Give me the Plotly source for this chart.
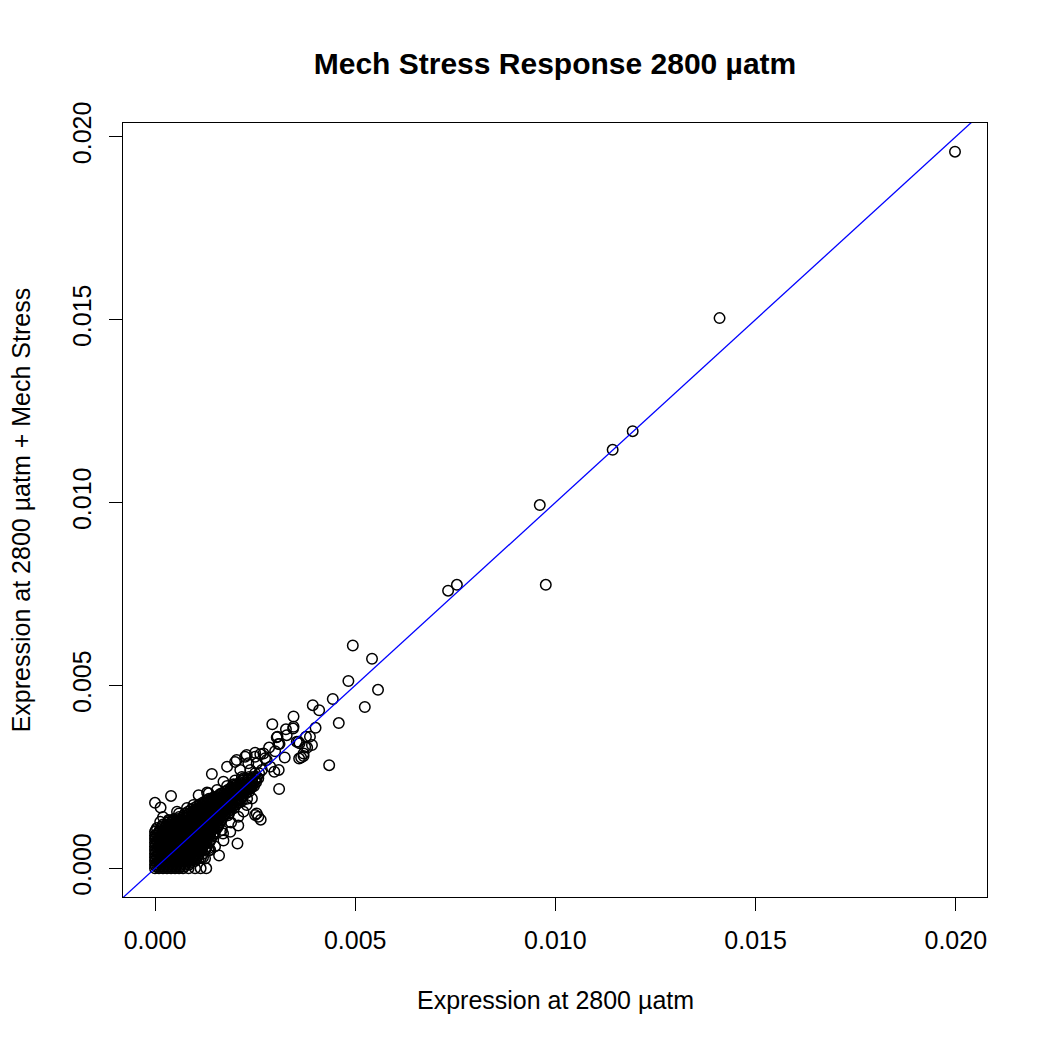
import plotly.graph_objects as go

# ---------------- data ----------------
# isolated / clearly readable points
outlier_x = [
    0.01998, 0.01410, 0.01193, 0.01143, 0.00961, 0.00976, 0.00754, 0.00732,
    0.00494, 0.00542, 0.00483, 0.00557, 0.00524, 0.00444, 0.00394, 0.00410,
    0.00346, 0.00293, 0.00401, 0.00459, 0.00345, 0.00327, 0.00329, 0.00304,
    0.00308, 0.00354, 0.00387, 0.00392, 0.00375, 0.00361, 0.00371, 0.00365,
    0.00435, 0.00324, 0.00309, 0.00310, 0.00271, 0.00298, 0.00279, 0.00288,
    0.00267, 0.00258, 0.00242, 0.00250, 0.00250, 0.00229, 0.00225, 0.00204,
    0.00200, 0.00180, 0.00142, 0.00221, 0.00213, 0.00242, 0.00229, 0.00254,
    0.00258, 0.00208, 0.00264, 0.00250, 0.00155, 0.00130, 0.00163, 0.00171,
    0.00196, 0.00221, 0.00213, 0.00238, 0.00254, 0.00233, 0.00217, 0.00263,
    0.00275, 0.00171, 0.00206, 0.00208, 0.00167, 0.00188, 0.00221, 0.00134,
    0.00125, 0.00109, 0.00138, 0.00084, 0.00100, 0.00114, 0.00128, 0.00000,
    0.00014, 0.00040, 0.00096, 0.00055, 0.00013, 0.00034, 0.00109, 0.00134,
    0.00163, 0.00196, 0.00346, 0.00306, 0.00311, 0.00358, 0.00377, 0.00371,
    0.00360, 0.00380, 0.00300, 0.00285,
    0.00020, 0.00060, 0.00080, 0.00140, 0.00180, 0.00200, 0.00150, 0.00170,
    0.00190, 0.00230, 0.00120, 0.00160,
]
outlier_y = [
    0.01959, 0.01504, 0.01195, 0.01144, 0.00993, 0.00775, 0.00775, 0.00759,
    0.00609, 0.00573, 0.00512, 0.00488, 0.00441, 0.00463, 0.00446, 0.00432,
    0.00415, 0.00394, 0.00384, 0.00397, 0.00382, 0.00380, 0.00364, 0.00358,
    0.00340, 0.00346, 0.00360, 0.00337, 0.00332, 0.00342, 0.00307, 0.00303,
    0.00282, 0.00303, 0.00269, 0.00217, 0.00314, 0.00264, 0.00296, 0.00278,
    0.00269, 0.00246, 0.00223, 0.00305, 0.00316, 0.00310, 0.00305, 0.00296,
    0.00291, 0.00278, 0.00258, 0.00209, 0.00187, 0.00191, 0.00173, 0.00150,
    0.00141, 0.00141, 0.00133, 0.00146, 0.00214, 0.00207, 0.00187, 0.00237,
    0.00230, 0.00246, 0.00269, 0.00269, 0.00287, 0.00287, 0.00250, 0.00312,
    0.00301, 0.00076, 0.00068, 0.00117, 0.00105, 0.00100, 0.00155, 0.00055,
    0.00027, 0.00027, 0.00050, 0.00000, 0.00000, 0.00000, 0.00000, 0.00179,
    0.00166, 0.00198, 0.00173, 0.00155, 0.00127, 0.00132, 0.00200, 0.00205,
    0.00203, 0.00228, 0.00387, 0.00360, 0.00340, 0.00346, 0.00360, 0.00314,
    0.00300, 0.00330, 0.00320, 0.00330,
    0.00140, 0.00150, 0.00165, 0.00190, 0.00225, 0.00240, 0.00060, 0.00095,
    0.00125, 0.00190, 0.00030, 0.00035,
]

# dense, overlapping cluster near the origin (read row by row)
cluster_row_y = [
    0.0000, 0.0001, 0.0002, 0.0003, 0.0004, 0.0005, 0.0006, 0.0007,
    0.0008, 0.0009, 0.0010, 0.0011, 0.0012, 0.0013, 0.0014, 0.0015,
    0.0016, 0.0017, 0.0018, 0.0019, 0.0020, 0.0021, 0.0022, 0.0023,
    0.0024, 0.0025, 0.0026,
]
cluster_row_x = [
    [0.0, 0.0001, 0.0002, 0.0003, 0.0004, 0.0005, 0.0006, 0.0007],
    [0.0, 0.00005, 0.00015, 0.00025, 0.00035, 0.00045, 0.00055, 0.00065, 0.00075, 0.00085],
    [0.0, 0.0001, 0.0002, 0.0003, 0.0004, 0.0005, 0.0006, 0.0007, 0.0008, 0.0009, 0.0010],
    [0.0, 0.00005, 0.00015, 0.00025, 0.00035, 0.00045, 0.00055, 0.00065, 0.00075, 0.00085, 0.00095, 0.00105, 0.00115],
    [0.0, 0.0001, 0.0002, 0.0003, 0.0004, 0.0005, 0.0006, 0.0007, 0.0008, 0.0009, 0.0010, 0.0011, 0.0012],
    [0.0, 0.00005, 0.00015, 0.00025, 0.00035, 0.00045, 0.00055, 0.00065, 0.00075, 0.00085, 0.00095, 0.00105, 0.00115, 0.00125, 0.00135],
    [0.0, 0.0001, 0.0002, 0.0003, 0.0004, 0.0005, 0.0006, 0.0007, 0.0008, 0.0009, 0.0010, 0.0011, 0.0012, 0.0013],
    [0.0, 0.00005, 0.00015, 0.00025, 0.00035, 0.00045, 0.00055, 0.00065, 0.00075, 0.00085, 0.00095, 0.00105, 0.00115, 0.00125, 0.00135],
    [0.0, 0.0001, 0.0002, 0.0003, 0.0004, 0.0005, 0.0006, 0.0007, 0.0008, 0.0009, 0.0010, 0.0011, 0.0012, 0.0013, 0.0014],
    [0.0, 0.00005, 0.00015, 0.00025, 0.00035, 0.00045, 0.00055, 0.00065, 0.00075, 0.00085, 0.00095, 0.00105, 0.00115, 0.00125, 0.00135, 0.00145],
    [0.0, 0.0001, 0.0002, 0.0003, 0.0004, 0.0005, 0.0006, 0.0007, 0.0008, 0.0009, 0.0010, 0.0011, 0.0012, 0.0013, 0.0014, 0.0015],
    [0.00005, 0.00015, 0.00025, 0.00035, 0.00045, 0.00055, 0.00065, 0.00075, 0.00085, 0.00095, 0.00105, 0.00115, 0.00125, 0.00135, 0.00145, 0.00155],
    [0.0002, 0.0003, 0.0004, 0.0005, 0.0006, 0.0007, 0.0008, 0.0009, 0.0010, 0.0011, 0.0012, 0.0013, 0.0014, 0.0015, 0.0016],
    [0.00035, 0.00045, 0.00055, 0.00065, 0.00075, 0.00085, 0.00095, 0.00105, 0.00115, 0.00125, 0.00135, 0.00145, 0.00155, 0.00165],
    [0.0006, 0.0007, 0.0008, 0.0009, 0.0010, 0.0011, 0.0012, 0.0013, 0.0014, 0.0015, 0.0016, 0.0017],
    [0.00075, 0.00085, 0.00095, 0.00105, 0.00115, 0.00125, 0.00135, 0.00145, 0.00155, 0.00165, 0.00175, 0.00185],
    [0.0009, 0.0010, 0.0011, 0.0012, 0.0013, 0.0014, 0.0015, 0.0016, 0.0017, 0.0018, 0.0019],
    [0.00105, 0.00115, 0.00125, 0.00135, 0.00145, 0.00155, 0.00165, 0.00175, 0.00185, 0.00195],
    [0.0012, 0.0013, 0.0014, 0.0015, 0.0016, 0.0017, 0.0018, 0.0019, 0.0020, 0.0021],
    [0.00135, 0.00145, 0.00155, 0.00165, 0.00175, 0.00185, 0.00195, 0.00205, 0.00215],
    [0.0016, 0.0017, 0.0018, 0.0019, 0.0020, 0.0021, 0.0022],
    [0.00175, 0.00185, 0.00195, 0.00205, 0.00215, 0.00225, 0.00235],
    [0.0019, 0.0020, 0.0021, 0.0022, 0.0023, 0.0024],
    [0.00205, 0.00215, 0.00225, 0.00235, 0.00245],
    [0.0022, 0.0023, 0.0024, 0.0025],
    [0.00235, 0.00245, 0.00255],
    [0.0025, 0.0026],
]

# in-between rows of the same dense cluster (the blob reads as solid black)
fill_row_y = [
    0.00005, 0.00015, 0.00025, 0.00035, 0.00045, 0.00055, 0.00065, 0.00075,
    0.00085, 0.00095, 0.00105, 0.00115, 0.00125, 0.00135, 0.00145, 0.00155,
    0.00165, 0.00175, 0.00185, 0.00195, 0.00205, 0.00215, 0.00225, 0.00235,
    0.00245,
]
fill_row_x = [
    [0.000025, 0.000125, 0.000225, 0.000325, 0.000425, 0.000525, 0.000625, 0.000725],
    [0.000075, 0.000175, 0.000275, 0.000375, 0.000475, 0.000575, 0.000675, 0.000775, 0.000875],
    [0.000025, 0.000125, 0.000225, 0.000325, 0.000425, 0.000525, 0.000625, 0.000725, 0.000825, 0.000925, 0.001025],
    [0.000075, 0.000175, 0.000275, 0.000375, 0.000475, 0.000575, 0.000675, 0.000775, 0.000875, 0.000975, 0.001075],
    [0.000025, 0.000125, 0.000225, 0.000325, 0.000425, 0.000525, 0.000625, 0.000725, 0.000825, 0.000925, 0.001025, 0.001125],
    [0.000075, 0.000175, 0.000275, 0.000375, 0.000475, 0.000575, 0.000675, 0.000775, 0.000875, 0.000975, 0.001075, 0.001175, 0.001275],
    [0.000025, 0.000125, 0.000225, 0.000325, 0.000425, 0.000525, 0.000625, 0.000725, 0.000825, 0.000925, 0.001025, 0.001125, 0.001225],
    [0.000075, 0.000175, 0.000275, 0.000375, 0.000475, 0.000575, 0.000675, 0.000775, 0.000875, 0.000975, 0.001075, 0.001175, 0.001275, 0.001375],
    [0.000025, 0.000125, 0.000225, 0.000325, 0.000425, 0.000525, 0.000625, 0.000725, 0.000825, 0.000925, 0.001025, 0.001125, 0.001225, 0.001325],
    [0.000075, 0.000175, 0.000275, 0.000375, 0.000475, 0.000575, 0.000675, 0.000775, 0.000875, 0.000975, 0.001075, 0.001175, 0.001275, 0.001375, 0.001475],
    [0.000025, 0.000125, 0.000225, 0.000325, 0.000425, 0.000525, 0.000625, 0.000725, 0.000825, 0.000925, 0.001025, 0.001125, 0.001225, 0.001325, 0.001425],
    [0.000175, 0.000275, 0.000375, 0.000475, 0.000575, 0.000675, 0.000775, 0.000875, 0.000975, 0.001075, 0.001175, 0.001275, 0.001375, 0.001475, 0.001575],
    [0.000325, 0.000425, 0.000525, 0.000625, 0.000725, 0.000825, 0.000925, 0.001025, 0.001125, 0.001225, 0.001325, 0.001425, 0.001525, 0.001625],
    [0.000475, 0.000575, 0.000675, 0.000775, 0.000875, 0.000975, 0.001075, 0.001175, 0.001275, 0.001375, 0.001475, 0.001575, 0.001675],
    [0.000725, 0.000825, 0.000925, 0.001025, 0.001125, 0.001225, 0.001325, 0.001425, 0.001525, 0.001625, 0.001725, 0.001825],
    [0.000825, 0.000925, 0.001025, 0.001125, 0.001225, 0.001325, 0.001425, 0.001525, 0.001625, 0.001725, 0.001825],
    [0.000975, 0.001075, 0.001175, 0.001275, 0.001375, 0.001475, 0.001575, 0.001675, 0.001775, 0.001875, 0.001975],
    [0.001125, 0.001225, 0.001325, 0.001425, 0.001525, 0.001625, 0.001725, 0.001825, 0.001925, 0.002025],
    [0.001275, 0.001375, 0.001475, 0.001575, 0.001675, 0.001775, 0.001875, 0.001975, 0.002075, 0.002175],
    [0.001475, 0.001575, 0.001675, 0.001775, 0.001875, 0.001975, 0.002075, 0.002175],
    [0.001675, 0.001775, 0.001875, 0.001975, 0.002075, 0.002175, 0.002275],
    [0.001825, 0.001925, 0.002025, 0.002125, 0.002225, 0.002325],
    [0.001975, 0.002075, 0.002175, 0.002275, 0.002375, 0.002475],
    [0.002125, 0.002225, 0.002325, 0.002425, 0.002525],
    [0.002325, 0.002425, 0.002525],
]

tick_values = [0.000, 0.005, 0.010, 0.015, 0.020]
tick_labels = ["0.000", "0.005", "0.010", "0.015", "0.020"]

abline_intercept = 0.0
abline_slope = 1.0

title_text = "Mech Stress Response 2800 µatm"
x_title = "Expression at 2800 µatm"
y_title = "Expression at 2800 µatm + Mech Stress"

# ---------------- build ----------------
cluster_x, cluster_y = [], []
for rows_y, rows_x in ((cluster_row_y, cluster_row_x), (fill_row_y, fill_row_x)):
    for yv, row in zip(rows_y, rows_x):
        for xv in row:
            cluster_x.append(xv)
            cluster_y.append(yv)

all_x = cluster_x + outlier_x
all_y = cluster_y + outlier_y


def r_range(vals):
    lo, hi = min(vals), max(vals)
    ext = 0.04 * (hi - lo)
    return [lo - ext, hi + ext]


xr = r_range(all_x)
yr = r_range(all_y)

FONT = "Liberation Sans, Arial, Helvetica, sans-serif"

fig = go.Figure()
fig.add_trace(go.Scatter(
    x=all_x, y=all_y, mode="markers",
    marker=dict(symbol="circle-open", size=10.5, color="black",
                line=dict(color="black", width=1.5)),
    hoverinfo="skip", showlegend=False,
))

line_x = [xr[0], xr[1]]
line_y = [abline_intercept + abline_slope * v for v in line_x]
fig.add_trace(go.Scatter(
    x=line_x, y=line_y, mode="lines",
    line=dict(color="#0000ff", width=1.3),
    hoverinfo="skip", showlegend=False,
))

axis_common = dict(
    tickvals=tick_values, ticktext=tick_labels,
    ticks="outside", ticklen=13, tickwidth=1.3, tickcolor="black",
    showline=True, linecolor="black", linewidth=1.3, mirror=True,
    showgrid=False, zeroline=False,
    tickfont=dict(family=FONT, size=25, color="black"),
)

# the page body adds an 8 px offset; margins compensate so the plot box
# lands where it sits in the reference
fig.update_layout(
    width=1050, height=1050,
    margin=dict(l=115, r=71, t=115, b=161, autoexpand=False),
    paper_bgcolor="white", plot_bgcolor="white",
    title=dict(text="<b>" + title_text + "</b>", x=547 / 1050, xanchor="center",
               y=1 - 55 / 1050, yanchor="middle", xref="container",
               yref="container",
               font=dict(family=FONT, size=30, color="black")),
    xaxis=dict(range=xr, ticklabelstandoff=8, **axis_common),
    yaxis=dict(range=yr, tickangle=-90, ticklabelstandoff=8, **axis_common),
    annotations=[
        dict(text=x_title, xref="paper", yref="paper", x=0.5, y=(897 - 1000) / 774.3,
             xanchor="center", yanchor="middle", showarrow=False,
             font=dict(family=FONT, size=25, color="black")),
        dict(text=y_title, xref="paper", yref="paper", x=(21 - 122.7) / 864.3, y=0.5,
             xanchor="center", yanchor="middle", textangle=-90, showarrow=False,
             font=dict(family=FONT, size=25, color="black")),
    ],
)

fig.write_html("out.html")
